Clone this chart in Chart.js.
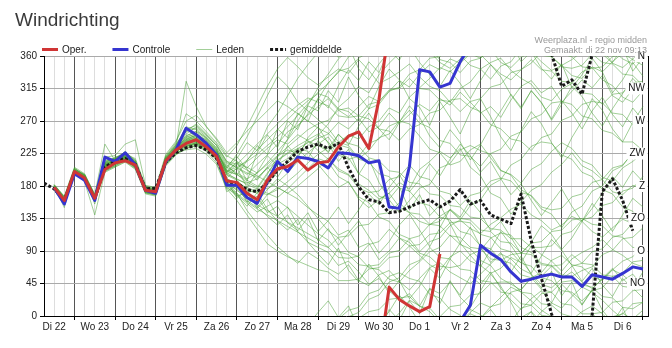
<!DOCTYPE html>
<html>
<head>
<meta charset="utf-8">
<script src="https://cdn.jsdelivr.net/npm/chart.js@4.4.0/dist/chart.umd.min.js"></script>
<style>
  html, body { margin: 0; padding: 0; background: #fff; }
</style>
</head>
<body>
<canvas id="windChart" width="672" height="348"></canvas>
<script>
// Day labels, centred at noon (hours counted from Di 22 00:00)
const dayLabels = ['Di 22', 'Wo 23', 'Do 24', 'Vr 25', 'Za 26', 'Zo 27', 'Ma 28', 'Di 29',
  'Wo 30', 'Do 1', 'Vr 2', 'Za 3', 'Zo 4', 'Ma 5', 'Di 6'];
const compassLabels = ['NO', 'O', 'ZO', 'Z', 'ZW', 'W', 'NW', 'N'];
const compassValues = [45, 90, 135, 180, 225, 270, 315, 360];

// 6-hourly wind direction (degrees)
const operStart = 12;
const operValues = [178, 160, 200, 191, 163, 203, 212, 215, 209, 174, 172, 215, 230, 239, 244, 234, 221,
  187, 185, 170, 161, 188, 204, 207, 216, 202, 212, 214, 234, 249, 255, 232, 300, 40, 23, 14, 6, 13, 86];

const controlStart = 12;
const controlValues = [178, 155, 197, 188, 160, 220, 214, 226, 209, 174, 170, 214, 230, 260, 251, 239, 223,
  181, 181, 164, 156, 186, 214, 200, 220, 218, 214, 205, 226, 225, 222, 212, 215, 151, 149, 207, 341, 338,
  317, 322, 352, 15, 98, 87, 78, 61, 48, 51, 55, 58, 54, 54, 41, 57, 54, 51, 59, 68, 65];

const meanStart = 6;
const meanValues = [184, 176, 160, 198, 190, 163, 206, 215, 218, 210, 176, 177, 213, 226, 233, 236, 230,
  218, 186, 184, 175, 172, 184, 202, 214, 228, 234, 238, 232, 239, 205, 179, 161, 158, 143, 145, 151, 157,
  161, 151, 159, 175, 155, 160, 140, 134, 128, 169, 104, 52, 3, 318, 327, 307, 2, 172, 190, 160, 118];

// ensemble members (Leden)
const ledenStart = 12;
const leden = [
  [176,158,201,190,165,210,214,222,211,176,170,218,232,245,250,238,224, 195,188,175,170,192,210,218,232,240,246, 252,268,259,274,255,262,281,266,279,293,284,301,292,310,296,281,290,275,299,318,326,309,318,296,311,327,316,333,305,296,314,322],
  [180,162,197,193,160,205,212,218,207,172,175,212,228,236,238,230,218, 190,182,168,160,182,200,212,222,236,250, 266,289,301,318,309,334,350,4,22,14,38,31,47,29,55,44,61,38,22,9,24,35,18,44,30,16,37,52,66,49,58,41],
  [174,155,203,188,158,200,208,215,205,170,168,210,226,238,244,236,220, 182,176,160,150,168,178,170,162,150,140, 131,112,119,95,101,78,90,108,97,84,71,63,82,90,76,70,59,66,81,74,97,85,76,62,79,88,95,106,92,84,73,68],
  [182,165,205,194,167,215,218,226,213,178,174,220,236,262,258,246,230, 200,196,185,178,198,215,225,232,228,210, 193,178,186,162,150,161,170,185,176,203,214,228,219,232,206,194,170,163,141,158,174,182,199,210,226,208,201,189,172,168,181,176],
  [178,160,198,192,162,218,216,228,212,175,171,222,240,280,270,255,240, 220,236,262,290,318,342,358,345,330,320, 331,342,336,355,340,322,329,338,349,331,318,312,296,315,324,342,351,357,340,329,321,303,298,314,322,338,344,327,319,303,296,312],
  [176,160,200,187,164,206,210,219,208,172,170,214,229,236,240,232,220, 186,180,165,158,175,190,180,168,152,135, 118,108,88,82,67,64,51,47,63,75,89,95,112,99,93,77,70,52,44,36,53,60,77,84,71,68,55,49,64,76,82,97],
  [180,150,202,195,155,212,220,224,218,180,176,216,228,242,246,240,228, 202,196,188,180,176,185,198,214,226,238, 248,226,219,197,188,166,161,143,160,177,182,205,211,230,236,229,224,202,195,175,166,148,141,122,144,152,173,180,201,208,227,233],
  [177,163,196,189,166,203,211,216,206,173,169,211,225,232,236,230,216, 184,178,170,176,196,220,245,270,292,316, 335,356,8,12,31,36,55,60,52,48,30,25,9,1,347,342,328,346,352,11,15,31,33,47,49,43,40,27,25,12,10,19],
  [175,157,199,190,161,201,207,214,204,171,167,209,224,234,240,234,220, 180,170,158,148,140,132,124,116,108,100, 95,81,80,83,99,103,120,108,102,87,82,69,67,70,85,91,108,115,112,95,88,73,70,57,55,63,68,85,91,107,109,122],
  [179,161,204,196,168,238,215,224,214,177,173,219,234,325,290,262,244, 222,214,206,198,210,222,234,246,258,266, 271,285,288,277,273,259,256,243,259,265,281,285,299,301,289,283,265,259,245,242,229,247,252,271,277,293,297,295,281,279,265,264],
  [181,164,198,193,163,209,217,221,210,174,172,213,231,248,252,242,226, 196,190,182,176,170,164,176,190,204,218, 213,193,185,165,157,137,131,113,107,89,103,108,125,133,153,161,181,189,209,217,235,241,239,223,217,199,193,175,169,151,145,129],
  [178,159,201,191,162,207,213,220,209,175,171,216,232,244,248,240,226, 200,206,214,224,236,248,262,278,294,310, 322,339,343,357,6,9,23,25,27,13,11,355,351,337,353,357,13,17,33,37,53,55,69,71,85,73,71,57,55,41,39,25],
  [176,156,200,189,162,204,210,217,207,171,168,212,226,230,232,224,210, 176,160,140,120,100,90,82,76,70,64, 61,49,49,51,65,67,81,83,97,99,113,115,129,131,129,113,109,93,89,73,69,53,49,35,33,21,35,39,55,59,75,77],
  [180,162,203,194,166,211,216,223,213,177,174,217,235,252,262,250,236, 212,206,198,192,204,216,226,236,244,252, 241,223,217,221,239,245,263,269,285,267,261,243,239,223,221,207,225,231,249,255,273,279,295,297,293,277,273,257,253,241,241,229],
  [177,158,197,188,159,202,209,217,206,172,169,210,227,238,242,236,222, 190,184,178,172,168,175,186,198,212,224, 233,251,239,235,219,215,201,199,185,183,169,167,153,151,137,135,121,119,107,107,95,95,97,113,117,133,137,153,157,173,177,193],
  [179,161,202,193,164,206,214,221,211,176,172,215,230,241,244,236,222, 196,204,216,230,244,258,272,286,298,308, 303,287,283,269,287,293,311,317,335,341,357,359,13,15,29,31,45,47,47,33,31,17,15,3,359,345,343,345,359,3,17,19],
  [175,154,198,186,140,199,206,213,203,169,166,208,223,232,236,228,212, 178,168,156,144,152,160,150,138,126,114, 105,89,85,71,69,71,87,91,107,111,127,131,147,135,133,119,117,103,101,87,85,71,69,55,69,73,89,93,109,113,129,133],
  [181,163,200,192,165,212,218,225,215,179,175,220,237,256,266,252,238, 214,210,202,194,186,178,170,180,192,204, 219,201,195,177,171,173,189,193,209,193,189,173,169,153,167,171,187,191,187,171,167,151,147,149,165,169,185,189,205,209,225,229],
  [178,160,199,191,163,208,212,220,210,174,171,214,229,240,244,236,222, 198,210,224,238,252,266,280,292,302,296, 291,277,275,277,293,297,313,315,329,315,313,299,297,283,297,301,317,321,337,341,355,341,339,325,323,309,307,293,307,309,323,325],
  [180,162,200,192,164,210,214,222,212,176,173,218,233,246,250,244,228, 206,198,190,198,212,228,244,262,280,300, 323,337,359,5,23,29,47,53,71,77,95,81,79,65,63,49,47,33,31,17,15,1,359,345,343,347,3,5,19,21,35,37],
  [177,159,198,190,161,205,211,218,208,173,170,213,228,235,240,232,218, 184,174,164,154,146,138,130,122,114,106, 95,109,111,125,127,141,143,157,143,141,127,125,111,109,95,93,79,77,85,87,101,103,117,119,133,135,127,125,111,109,95,93],
  [182,166,206,197,169,220,222,238,244,181,178,224,242,270,278,262,246, 226,240,256,270,284,298,290,280,270,260, 253,237,233,217,213,197,193,177,173,157,153,137,133,117,113,97,93,77,73,57,53,37,33,17,15,3,3,351,349,335,333,319],
  [179,160,201,190,163,207,212,219,209,175,172,215,231,243,247,239,225, 205,224,248,276,305,332,318,296,284,272, 260,241,236,218,229,247,252,270,266,249,231,226,209,214,230,238,219,201,196,184,203,211,228,240,232,215,209,192,187,205,214,226],
  [176,159,199,191,164,206,213,218,208,174,171,214,230,239,243,235,221, 178,166,171,152,138,126,140,117,102,95, 88,70,76,61,44,52,35,22,31,14,6,351,343,356,9,2,348,335,327,341,350,6,18,11,27,40,33,22,8,356,349,3],
  [180,163,202,195,166,211,217,223,212,177,173,217,233,250,255,245,231, 198,189,184,190,206,221,230,225,242,236, 228,240,251,245,262,270,288,281,303,316,329,344,338,352,5,18,12,26,40,33,21,8,359,347,355,6,14,3,350,344,356,8],
  [177,161,200,193,162,208,214,221,210,176,172,216,232,242,249,241,227, 201,212,205,219,232,244,238,251,243,229, 217,204,196,183,174,162,170,151,143,131,126,138,147,133,121,114,127,136,148,155,140,132,119,126,138,131,117,109,122,134,128,141],
  [178,157,198,189,160,203,210,216,206,172,169,212,227,237,241,233,219, 185,170,146,128,112,96,84,73,88,79, 66,58,71,49,42,57,63,48,36,52,67,74,61,53,45,58,72,86,79,65,58,44,39,52,61,47,38,51,64,57,45,53],
  [181,164,203,196,167,213,219,227,216,179,176,221,238,258,264,251,236, 214,205,196,210,223,238,255,264,278,290, 301,285,276,290,304,297,311,326,317,335,348,341,356,350,3,357,9,351,344,358,6,352,340,347,333,329,345,338,352,4,355,347],
  [177,162,199,192,161,209,213,219,208,175,173,213,229,241,246,237,223, 199,214,187,226,251,233,270,258,291,284, 312,296,331,305,287,318,342,327,301,289,264,297,275,252,283,301,276,248,229,257,283,266,240,219,247,270,301,285,259,241,268,290],
  [179,158,202,189,164,206,215,224,210,173,170,217,230,236,239,233,219, 172,181,158,166,143,152,129,118,136,104, 121,98,115,132,110,87,103,126,141,119,96,122,148,137,160,143,118,131,109,86,102,125,113,92,108,131,156,139,117,140,163,151],
  [178,161,200,190,162,205,211,220,209,176,171,214,231,244,251,240,224, 191,205,178,199,222,208,236,219,247,262, 239,214,231,196,218,185,162,179,147,168,139,154,128,101,123,96,74,88,61,83,57,39,62,28,47,15,36,8,351,12,339,358],
  [180,163,204,195,166,214,218,226,215,178,174,219,236,255,260,248,233, 210,195,215,236,224,259,247,281,269,302, 288,319,341,326,352,337,9,354,21,3,38,17,49,26,12,35,58,41,19,352,6,343,328,349,316,334,357,338,309,327,351,332],
  [176,157,198,188,159,202,208,216,205,171,168,211,225,233,238,231,217, 188,163,175,149,162,138,151,126,143,117, 132,151,128,147,169,154,178,196,172,189,211,194,217,238,222,199,214,190,168,183,160,139,157,176,152,131,149,170,193,178,201,186],
  [181,165,201,194,167,211,216,225,213,178,175,218,234,249,256,247,232, 207,221,203,188,206,192,214,231,218,243, 226,252,237,263,281,259,244,268,291,275,249,233,258,241,216,237,262,284,307,289,312,296,271,293,318,304,281,263,287,308,329,314],
  [177,160,199,191,163,207,212,221,208,174,170,215,230,240,245,238,222, 183,167,152,171,148,131,119,134,102,86, 71,94,63,47,72,55,31,49,24,41,66,52,79,101,84,68,92,117,98,77,59,83,106,91,70,48,66,43,27,52,38,61],
  [179,162,201,193,165,209,215,222,211,177,172,216,232,247,253,243,229, 204,218,240,229,262,281,305,329,348,5, 21,358,14,342,327,349,6,29,12,351,334,318,340,322,301,326,348,331,306,287,312,295,273,298,281,259,284,303,279,262,288,271]
];

const FONT = '"Liberation Sans", Arial, sans-serif';
const operColor = '#d03535';
const controlColor = '#3535d0';
const meanColor = '#1a1a1a';
const ledenColor = 'rgba(70,160,50,0.5)';

// a jump over north is drawn off the top/bottom edge and continued from the other side
function toPoints(start, values) {
  const pts = [];
  values.forEach((v, i) => {
    const h = start + i * 6;
    if (i > 0) {
      const prev = values[i - 1];
      const d = v - prev;
      if (Math.abs(d) > 180) {
        const shift = d > 0 ? -360 : 360;
        pts.push({ x: h, y: v + shift });
        pts.push({ x: h, y: null });
        pts.push({ x: h - 6, y: prev - shift });
      }
    }
    pts.push({ x: h, y: v });
  });
  return pts;
}

const legendItems = [
  { label: 'Oper.', color: operColor, width: 3, dash: [] },
  { label: 'Controle', color: controlColor, width: 3, dash: [] },
  { label: 'Leden', color: ledenColor, width: 1, dash: [] },
  { label: 'gemiddelde', color: meanColor, width: 3, dash: [3, 2] }
];

const overlay = {
  id: 'overlay',
  afterDatasetsDraw(chart) {
    const { ctx, chartArea, scales } = chart;
    ctx.save();
    ctx.font = '10px ' + FONT;
    ctx.textAlign = 'right';
    ctx.textBaseline = 'middle';
    compassLabels.forEach((lab, i) => {
      const y = scales.y.getPixelForValue(compassValues[i]);
      const w = ctx.measureText(lab).width;
      ctx.fillStyle = '#fff';
      ctx.fillRect(chartArea.right - w - 6, y - 6, w + 5.5, 12);
      ctx.fillStyle = '#111';
      ctx.fillText(lab, chartArea.right - 3, y);
    });
    ctx.restore();
  },
  afterDraw(chart) {
    const ctx = chart.ctx;
    ctx.save();
    // title
    ctx.font = '19px ' + FONT;
    ctx.fillStyle = '#3a3a3a';
    ctx.textAlign = 'left';
    ctx.textBaseline = 'alphabetic';
    ctx.fillText('Windrichting', 15, 26);
    // credits
    ctx.font = '9px ' + FONT;
    ctx.fillStyle = '#999';
    ctx.textAlign = 'right';
    ctx.fillText('Weerplaza.nl - regio midden', 647, 43);
    ctx.fillText('Gemaakt: di 22 nov 09:13', 647, 53);
    // legend
    ctx.font = '10px ' + FONT;
    ctx.textAlign = 'left';
    ctx.textBaseline = 'middle';
    let x = 42;
    legendItems.forEach(item => {
      ctx.beginPath();
      ctx.strokeStyle = item.color;
      ctx.lineWidth = item.width;
      ctx.setLineDash(item.dash);
      ctx.moveTo(x, 49.5);
      ctx.lineTo(x + 16, 49.5);
      ctx.stroke();
      ctx.setLineDash([]);
      ctx.fillStyle = '#222';
      ctx.fillText(item.label, x + 20, 50);
      x += 20 + ctx.measureText(item.label).width + 26;
    });
    ctx.restore();
  }
};

const datasets = [
  { label: 'Oper.', data: toPoints(operStart, operValues), borderColor: operColor, borderWidth: 3 },
  { label: 'Controle', data: toPoints(controlStart, controlValues), borderColor: controlColor, borderWidth: 3 },
  { label: 'gemiddelde', data: toPoints(meanStart, meanValues), borderColor: meanColor, borderWidth: 3, borderDash: [3, 2] }
].concat(leden.map(vals => ({
  label: 'Leden', data: toPoints(ledenStart, vals), borderColor: ledenColor, borderWidth: 1
})));

new Chart(document.getElementById('windChart'), {
  type: 'line',
  data: { datasets },
  plugins: [overlay],
  options: {
    responsive: false,
    animation: false,
    events: [],
    layout: { padding: { top: 56, left: 0, right: 0, bottom: 0 } },
    elements: {
      point: { radius: 0 },
      line: { tension: 0, borderJoinStyle: 'round', fill: false }
    },
    plugins: { legend: { display: false }, tooltip: { enabled: false } },
    scales: {
      x: {
        type: 'linear',
        min: 6,
        max: 363,
        afterBuildTicks: scale => {
          const t = [];
          for (let h = 6; h <= 360; h += 6) t.push({ value: h });
          scale.ticks = t;
        },
        afterFit: scale => { scale.height = 32; },
        ticks: {
          autoSkip: false,
          maxRotation: 0,
          padding: 1,
          color: '#222',
          font: { family: FONT, size: 10 },
          callback: v => (v % 24 === 12 ? dayLabels[(v - 12) / 24] : '')
        },
        grid: {
          color: c => (c.tick && c.tick.value % 24 === 0 ? '#555' : '#ddd'),
          tickColor: c => (c.tick && c.tick.value % 24 === 0 ? '#000' : 'rgba(0,0,0,0)'),
          tickLength: 4
        },
        border: { color: '#000' }
      },
      y: {
        min: 0,
        max: 360,
        afterFit: scale => { scale.width = 44; },
        ticks: { stepSize: 45, padding: 3, color: '#222', font: { family: FONT, size: 10 } },
        grid: { color: '#aaa', tickColor: '#000', tickLength: 4 },
        border: { color: '#000' }
      },
      y2: {
        position: 'right',
        min: 0,
        max: 360,
        afterFit: scale => { scale.width = 24; },
        ticks: { display: false },
        grid: { drawOnChartArea: false, drawTicks: false },
        border: { color: '#000' }
      }
    }
  }
});
</script>
</body>
</html>
